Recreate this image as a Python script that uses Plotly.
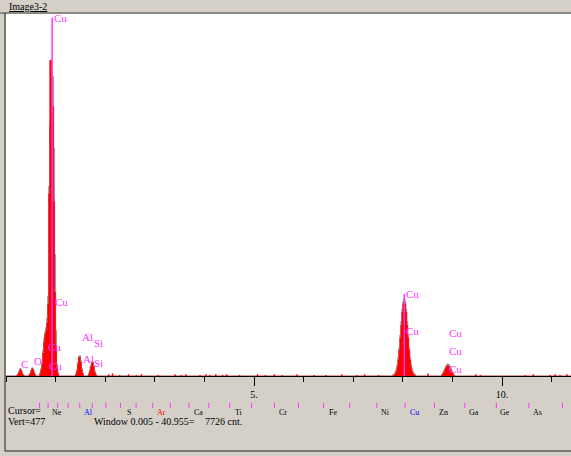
import plotly.graph_objects as go

# ---------------- data ----------------
CH_WIDTH = 0.02          # keV per channel
N_CH = 571               # channels 0 .. 11.40 keV
FULL_SCALE = 477         # Vert=477

# spectrum segments: (start keV, counts...)  red = spectrum, gray = overlay
c_start = 0.22
c_red = [1, 3, 6, 9, 7, 3, 1]
c_gray = [2, 4, 7, 10, 8, 4, 2]

o_start = 0.46
o_red = [1, 3, 7, 10, 8, 4, 1]
o_gray = [2, 4, 8, 11, 9, 5, 2]

cul_start = 0.68
cul_red = [3, 8, 15, 30, 45, 55, 60, 70, 95, 240, 416, 416, 355, 355, 230, 110, 40, 10, 3]
cul_gray = [4, 10, 18, 34, 50, 58, 64, 76, 105, 250, 330, 395, 395, 395, 300, 160, 60, 15, 5]

al_start = 1.40
al_red = [2, 6, 15, 24, 25, 18, 8, 3]
al_gray = [3, 8, 18, 26, 27, 20, 10, 4]

si_start = 1.66
si_red = [2, 6, 12, 17, 18, 12, 5, 2]
si_gray = [3, 8, 14, 19, 19, 14, 7, 3]

cuka_start = 7.80
cuka_red = [1, 1, 3, 6, 12, 21, 34, 50, 67, 84, 95, 99, 95, 84, 67, 50, 34, 21, 12, 6, 3, 1, 1]
cuka_gray = [2, 3, 5, 9, 15, 25, 38, 54, 72, 88, 98, 102, 98, 88, 72, 54, 38, 25, 15, 9, 5, 3, 2]

cukb_start = 8.78
cukb_red = [1, 3, 5, 8, 11, 13, 14, 13, 11, 8, 5, 3, 1]
cukb_gray = [2, 4, 7, 10, 13, 15, 16, 15, 13, 10, 7, 4, 2]

noise_energy = [2.06, 2.14, 2.28, 2.46, 2.62, 2.72, 3.06, 3.40, 3.52, 3.62, 3.90, 4.02,
                4.10, 4.22, 4.36, 4.44, 4.70, 5.06, 5.22, 5.40, 5.56, 5.86, 6.20, 6.44,
                6.76, 7.06, 7.22, 7.50, 8.50, 9.46, 9.56, 10.46, 10.62, 10.96, 11.06, 11.16, 11.30]
noise_counts = [2, 3, 1, 2, 1, 2, 1, 2, 1, 2, 1, 2, 1, 2, 1, 2, 1, 2, 1, 2, 1, 2, 1, 1,
                2, 1, 2, 1, 3, 2, 1, 1, 2, 1, 2, 1, 2]

segments = [
    (c_start, c_red, c_gray), (o_start, o_red, o_gray), (cul_start, cul_red, cul_gray),
    (al_start, al_red, al_gray), (si_start, si_red, si_gray),
    (cuka_start, cuka_red, cuka_gray), (cukb_start, cukb_red, cukb_gray),
]

# KLM markers: energy, height (counts), label, whether the line is drawn visibly
marker_energy = [0.93, 0.95, 0.81, 0.83, 0.27, 0.53, 1.49, 1.51, 1.74, 1.73, 8.03, 8.03, 8.90, 8.90, 8.90]
marker_height = [472, 97, 38, 13, 16, 20, 51, 22, 43, 17, 108, 59, 57, 33, 9]
marker_label = ["Cu", "Cu", "Cu", "Cu", "C", "O", "Al", "Al", "Si", "Si", "Cu", "Cu", "Cu", "Cu", "Cu"]
marker_line = [True, False, False, False, False, False, False, False, False, False, True, False, False, False, False]

# element K-line ticks in the lower panel
elem_energy = [0.677, 0.849, 1.041, 1.254, 1.487, 1.740, 2.013, 2.307, 2.622, 2.957, 3.313, 3.691,
               4.090, 4.510, 4.952, 5.414, 5.898, 6.403, 6.930, 7.477, 8.047, 8.638, 9.251,
               9.886, 10.543, 11.221]
elem_label_energy = [0.85, 1.487, 2.307, 2.957, 3.691, 4.510, 5.414, 6.403, 7.477, 8.047,
                     8.638, 9.251, 9.886, 10.543]
elem_label = ["Ne", "Al", "S", "Ar", "Ca", "Ti", "Cr", "Fe", "Ni", "Cu", "Zn", "Ga", "Ge", "As"]
elem_label_color = ["black", "blue", "black", "red", "black", "black", "black", "black",
                    "black", "blue", "black", "black", "black", "black"]

# ---------------- build spectrum ----------------
energy = [i * CH_WIDTH for i in range(N_CH)]
red = [0] * N_CH
gray = [0] * N_CH
for start, r, g in segments:
    i0 = int(round(start / CH_WIDTH))
    for k, v in enumerate(r):
        red[i0 + k] = v
    for k, v in enumerate(g):
        gray[i0 + k] = v
for e, v in zip(noise_energy, noise_counts):
    i = int(round(e / CH_WIDTH))
    red[i] = max(red[i], v)

# ---------------- figure ----------------
W, H = 571, 456
L, R, T, B = 6, 0, 14, 80
PW, PH = W - L - R, H - T - B


def px(x):
    return (x - L) / PW


def py(y):
    return (H - B - y) / PH


BG = "#d4d0c8"
MAG = "#ff33ff"
FONT = "Liberation Serif"

fig = go.Figure()
fig.add_trace(go.Scatter(x=energy, y=gray, mode="lines", line=dict(color="#9a9a9a", width=1, shape="hv"),
                         fill="tozeroy", fillcolor="#a8a8a8", hoverinfo="skip", showlegend=False))
fig.add_trace(go.Scatter(x=energy, y=red, mode="lines", line=dict(color="#ff0000", width=0.5, shape="hv"),
                         fill="tozeroy", fillcolor="#ff0000", hoverinfo="skip", showlegend=False))

shapes = []
annotations = []

# marker lines + labels
for e, h, lab, show in zip(marker_energy, marker_height, marker_label, marker_line):
    if show:
        shapes.append(dict(type="line", xref="x", yref="y", x0=e, x1=e, y0=0, y1=h,
                           line=dict(color=MAG, width=1.5), layer="above"))
    annotations.append(dict(x=e, y=h, xref="x", yref="y", text=lab, showarrow=False,
                            xanchor="left", yanchor="middle", xshift=0,
                            font=dict(family=FONT, size=11, color=MAG)))

# element ticks in lower panel
for e in elem_energy:
    shapes.append(dict(type="line", xref="x", yref="paper", x0=e, x1=e, y0=py(403), y1=py(408),
                       line=dict(color=MAG, width=1)))
for e, lab, col in zip(elem_label_energy, elem_label, elem_label_color):
    annotations.append(dict(x=e + 0.18, y=py(412), xref="x", yref="paper", text=lab, showarrow=False,
                            xanchor="center", yanchor="middle",
                            font=dict(family=FONT, size=8, color=col)))

# frame lines
shapes.append(dict(type="line", xref="paper", yref="paper", x0=px(0), x1=px(W), y0=py(13), y1=py(13),
                   line=dict(color="#404040", width=1)))
shapes.append(dict(type="line", xref="paper", yref="paper", x0=px(5), x1=px(5), y0=py(13), y1=py(451),
                   line=dict(color="#202020", width=1)))
shapes.append(dict(type="line", xref="paper", yref="paper", x0=px(5), x1=px(W), y0=py(451), y1=py(451),
                   line=dict(color="#202020", width=1)))

# texts
annotations += [
    dict(x=px(7), y=py(6), xref="paper", yref="paper", text="<u>Image3-2</u>", showarrow=False,
         xanchor="left", yanchor="middle", font=dict(family=FONT, size=10, color="black")),
    dict(x=px(6), y=py(410), xref="paper", yref="paper", text="Cursor=", showarrow=False,
         xanchor="left", yanchor="middle", font=dict(family=FONT, size=10, color="black")),
    dict(x=px(6), y=py(421), xref="paper", yref="paper", text="Vert=%d" % FULL_SCALE, showarrow=False,
         xanchor="left", yanchor="middle", font=dict(family=FONT, size=10, color="black")),
    dict(x=px(92), y=py(421), xref="paper", yref="paper", text="Window 0.005 - 40.955=", showarrow=False,
         xanchor="left", yanchor="middle", font=dict(family=FONT, size=10, color="black")),
    dict(x=px(203), y=py(421), xref="paper", yref="paper", text="7726 cnt.", showarrow=False,
         xanchor="left", yanchor="middle", font=dict(family=FONT, size=10, color="black")),
]

fig.update_layout(
    width=W, height=H,
    margin=dict(l=L, r=R, t=T, b=B, pad=0),
    paper_bgcolor=BG, plot_bgcolor="white",
    showlegend=False,
    shapes=shapes, annotations=annotations,
    xaxis=dict(range=[0, PW / 49.6], showgrid=False, zeroline=False,
               showline=True, linecolor="black", linewidth=1,
               tickmode="array", tickvals=[5, 10], ticktext=["5.", "10."],
               ticks="outside", ticklen=9, tickcolor="black", tickwidth=1,
               tickfont=dict(family=FONT, size=10, color="black"),
               minor=dict(dtick=1, tick0=0, ticks="outside", ticklen=5, tickcolor="black", tickwidth=1)),
    yaxis=dict(range=[0, FULL_SCALE], showgrid=False, zeroline=False, showline=False,
               showticklabels=False, ticks=""),
)

fig.write_html("out.html", config={"displayModeBar": False},
               post_script="document.body.style.margin='0';document.body.style.overflow='hidden';")
